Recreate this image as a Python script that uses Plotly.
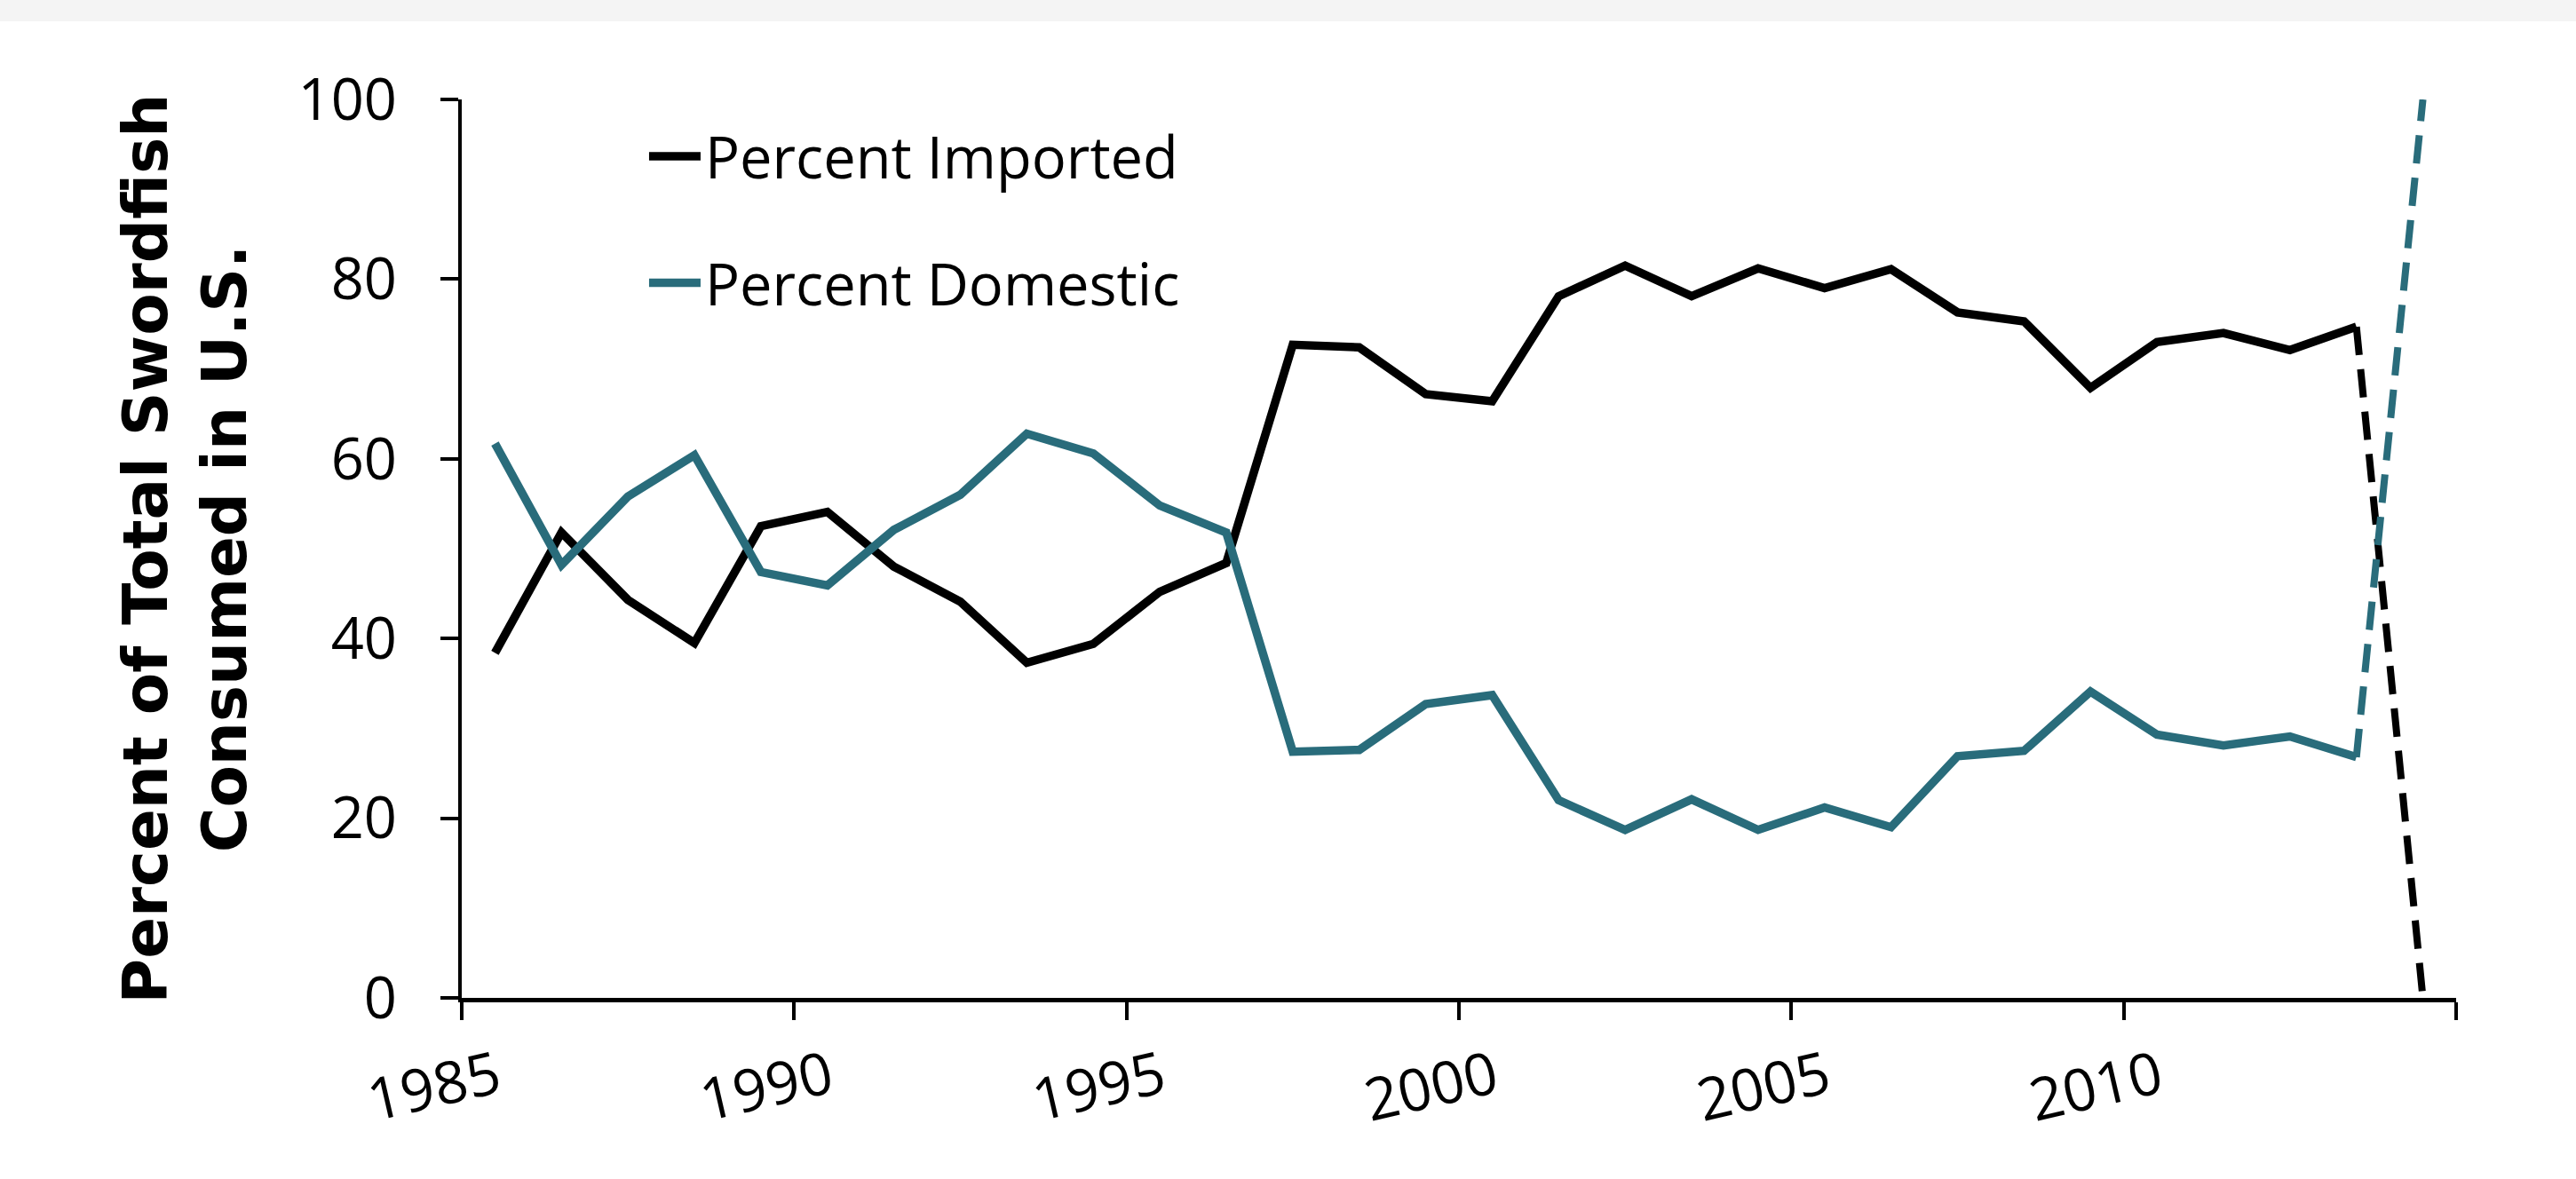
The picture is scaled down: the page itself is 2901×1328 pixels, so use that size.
import plotly.graph_objects as go

# ---- data ----
years = [1985.5, 1986.5, 1987.5, 1988.5, 1989.5, 1990.5, 1991.5, 1992.5, 1993.5, 1994.5,
         1995.5, 1996.5, 1997.5, 1998.5, 1999.5, 2000.5, 2001.5, 2002.5, 2003.5, 2004.5,
         2005.5, 2006.5, 2007.5, 2008.5, 2009.5, 2010.5, 2011.5, 2012.5, 2013.5]
pct_imported = [38.4, 51.8, 44.3, 39.5, 52.5, 54.1, 48.0, 44.1, 37.3, 39.4,
                45.2, 48.4, 72.7, 72.4, 67.2, 66.4, 78.1, 81.5, 78.1, 81.2,
                79.0, 81.1, 76.3, 75.3, 67.9, 73.0, 74.0, 72.1, 74.7]
pct_domestic = [61.7, 48.2, 55.8, 60.4, 47.4, 45.9, 52.1, 56.0, 62.8, 60.6,
                54.8, 51.8, 27.4, 27.6, 32.7, 33.7, 22.0, 18.7, 22.1, 18.7,
                21.2, 19.0, 26.9, 27.5, 34.1, 29.3, 28.1, 29.1, 26.8]
# dashed final segment (2013 -> 2014)
tail_years = [2013.5, 2014.5]
tail_imported = [74.7, 0]
tail_domestic = [26.8, 100]

x_tickvals = [1985, 1990, 1995, 2000, 2005, 2010, 2015]
x_ticktext = ["1985", "1990", "1995", "2000", "2005", "2010", ""]
y_tickvals = [0, 20, 40, 60, 80, 100]

BLACK = "#000000"
TEAL = "#296C7B"
TXT_FONT = "Open Sans"

fig = go.Figure()
fig.add_trace(go.Scatter(x=years, y=pct_imported, mode="lines", name="Percent Imported",
                         legendgroup="imp", line=dict(color=BLACK, width=9.5)))
fig.add_trace(go.Scatter(x=tail_years, y=tail_imported, mode="lines", showlegend=False,
                         legendgroup="imp", line=dict(color=BLACK, width=8, dash="32px,16px")))
fig.add_trace(go.Scatter(x=years, y=pct_domestic, mode="lines", name="Percent Domestic",
                         legendgroup="dom", line=dict(color=TEAL, width=9.5)))
fig.add_trace(go.Scatter(x=tail_years, y=tail_domestic, mode="lines", showlegend=False,
                         legendgroup="dom", line=dict(color=TEAL, width=8, dash="32px,16px")))

fig.update_layout(
    width=2901, height=1328,
    paper_bgcolor="white", plot_bgcolor="white",
    margin=dict(l=520, r=135, t=112, b=204, autoexpand=False),
    font=dict(family=TXT_FONT, color="black", size=64),
    showlegend=True,
    legend=dict(x=0.0917, y=0.985, xanchor="left", yanchor="top",
                traceorder="grouped", tracegroupgap=55, itemwidth=58,
                bgcolor="rgba(0,0,0,0)", font=dict(family=TXT_FONT, size=65, color="black")),
    xaxis=dict(range=[1985, 2015], tickmode="array", tickvals=x_tickvals, ticktext=x_ticktext,
               tickangle=-13, ticks="outside", ticklen=20, tickwidth=4, tickcolor="black",
               showline=True, linecolor="black", linewidth=5, showgrid=False, zeroline=False,
               ticklabelstandoff=2, ticklabelshift=40,
               tickfont=dict(family=TXT_FONT, size=66, color="black")),
    yaxis=dict(range=[0, 100], tickmode="array", tickvals=y_tickvals,
               ticks="outside", ticklen=20, tickwidth=4, tickcolor="black",
               showline=True, linecolor="black", linewidth=4, showgrid=False, zeroline=False,
               ticklabelstandoff=36, tickfont=dict(family=TXT_FONT, size=65, color="black"),
               title=dict(text="Percent of Total Swordfish<br>Consumed in U.S.",
                          font=dict(family="DejaVu Sans", size=69, color="black", weight="bold"),
                          standoff=36),
               automargin=True),
    shapes=[dict(type="rect", xref="paper", yref="paper", x0=-0.3, x1=1.1,
                 y0=1.087, y1=1.2, fillcolor="#f4f4f4", line=dict(width=0), layer="below")],
)

fig.write_html("out.html", config={"displayModeBar": False},
               post_script="document.body.style.margin='0';")
